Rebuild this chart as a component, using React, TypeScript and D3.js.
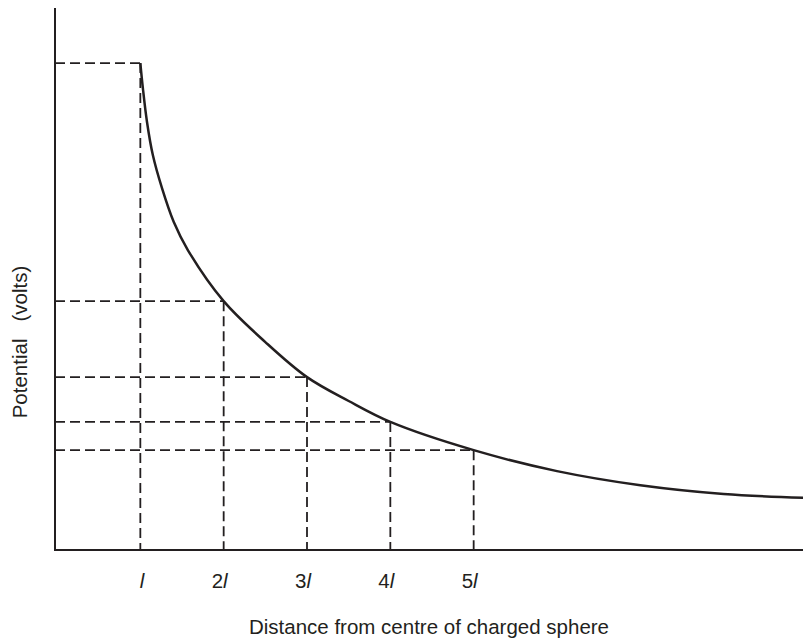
import * as d3 from "d3";

// distance in units of l, potential in arbitrary units (value at r = l taken as 100)
const curveR = [1, 1.03, 1.08, 1.15, 1.26, 1.4, 1.57, 2, 2.5, 3, 3.5, 4, 5, 6, 7, 8, 8.96];
const curveV = [100, 94.9, 87.9, 81.1, 74.3, 67.4, 61.6, 51.1, 42.7, 35.5, 30.6, 26.3, 20.5, 16.2, 13.3, 11.5, 10.7];

const markR = [1, 2, 3, 4, 5];
const markV = [100, 51.1, 35.5, 26.3, 20.5];
const tickPrefix = ["", "2", "3", "4", "5"];

const xTitle = "Distance from centre of charged sphere";
const yTitle = "Potential\u00a0\u00a0\u00a0(volts)";

export default function App() {
  const w = 803,
    h = 641,
    m = { top: 8, right: 0, bottom: 91, left: 55 };
  const ink = "#231f20";
  const font = "'Liberation Sans', Arial, Helvetica, sans-serif";

  const x = d3.scaleLinear().domain([0, 9]).range([57, 807]);
  const y = d3
    .scaleLinear()
    .domain([0, 111.3])
    .range([h - m.bottom, m.top]);

  const pts = curveR.map((r, i) => [r, curveV[i]] as [number, number]);
  const line = d3
    .line<[number, number]>()
    .x((d) => x(d[0]))
    .y((d) => y(d[1]))
    .curve(d3.curveCatmullRom.alpha(0.5));

  const base = y(0);

  return (
    <svg
      width={w}
      height={h}
      style={{ position: "absolute", left: 0, top: 0, background: "#fff" }}
    >
      {/* guide lines */}
      <g stroke={ink} strokeWidth={1.8} strokeDasharray="10,5" fill="none">
        {markR.map((r, i) => (
          <g key={r}>
            <line x1={m.left} x2={x(r)} y1={y(markV[i])} y2={y(markV[i])} />
            <line x1={x(r)} x2={x(r)} y1={y(markV[i])} y2={base} />
          </g>
        ))}
      </g>

      {/* curve */}
      <path d={line(pts) ?? ""} fill="none" stroke={ink} strokeWidth={2.5} />

      {/* axes */}
      <g stroke={ink} strokeWidth={2} fill="none">
        <line x1={m.left} x2={m.left} y1={m.top} y2={base + 1} />
        <line x1={m.left - 1} x2={w} y1={base} y2={base} />
      </g>

      {/* tick labels */}
      <g fontFamily={font} fontSize={20.5} fill={ink} textAnchor="end">
        {markR.map((r, i) => (
          <text key={r} x={x(r) + 4} y={588}>
            {tickPrefix[i]}
            <tspan fontStyle="italic">l</tspan>
          </text>
        ))}
      </g>

      {/* titles */}
      <text
        x={(m.left + w) / 2}
        y={634}
        textAnchor="middle"
        fontFamily={font}
        fontSize={20.5}
        fill={ink}
      >
        {xTitle}
      </text>
      <text
        transform="translate(27,342) rotate(-90)"
        textAnchor="middle"
        fontFamily={font}
        fontSize={20.5}
        fill={ink}
      >
        {yTitle}
      </text>
    </svg>
  );
}
